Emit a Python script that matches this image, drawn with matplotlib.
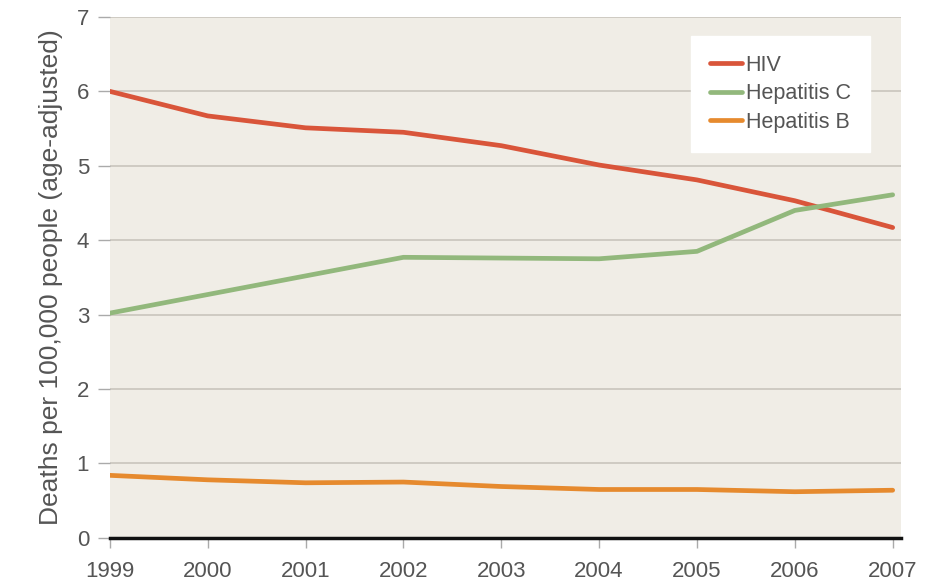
import matplotlib
matplotlib.use("Agg")
import matplotlib.pyplot as plt

years = [1999, 2000, 2001, 2002, 2003, 2004, 2005, 2006, 2007]
hiv = [6.00, 5.67, 5.51, 5.45, 5.27, 5.01, 4.81, 4.53, 4.17]
hep_c = [3.02, 3.27, 3.52, 3.77, 3.76, 3.75, 3.85, 4.40, 4.61]
hep_b = [0.84, 0.78, 0.74, 0.75, 0.69, 0.65, 0.65, 0.62, 0.64]
yticks = [0, 1, 2, 3, 4, 5, 6, 7]

plt.rcParams['font.family'] = ['Liberation Sans', 'DejaVu Sans']
txt = '#555555'

fig = plt.figure(figsize=(9.39, 5.84), dpi=100)
ax = fig.add_axes([0.117, 0.079, 0.842, 0.892])
ax.set_facecolor('#f0ede6')

ax.plot(years, hiv, color='#d9553a', lw=3.4, label='HIV', solid_capstyle='round')
ax.plot(years, hep_c, color='#92b87c', lw=3.4, label='Hepatitis C', solid_capstyle='round')
ax.plot(years, hep_b, color='#e68a2e', lw=3.4, label='Hepatitis B', solid_capstyle='round')

ax.set_xlim(1999, 2007.08)
ax.set_ylim(0, 7)
ax.set_xticks(years)
ax.set_yticks(yticks)
ax.grid(axis='y', color='#c9c5bd', lw=1.2)
ax.set_axisbelow(True)
for s in ['top', 'right', 'left']:
    ax.spines[s].set_visible(False)
ax.spines['bottom'].set_color('#111111')
ax.spines['bottom'].set_linewidth(2.5)
ax.tick_params(axis='both', colors='#aaaaaa', labelcolor=txt, labelsize=16, length=9, width=1)
ax.tick_params(axis='x', pad=10, length=7)
ax.tick_params(axis='y', pad=6)
ax.set_ylabel('Deaths per 100,000 people (age-adjusted)', fontsize=19, color=txt, labelpad=10)

leg = ax.legend(loc='upper right', bbox_to_anchor=(0.975, 0.985), fontsize=15.5, frameon=True,
                fancybox=False, edgecolor='white', framealpha=1, handlelength=1.5,
                handletextpad=0.15, labelspacing=0.35, borderpad=0.9)
for t in leg.get_texts():
    t.set_color(txt)

fig.savefig('out.png', dpi=100)
